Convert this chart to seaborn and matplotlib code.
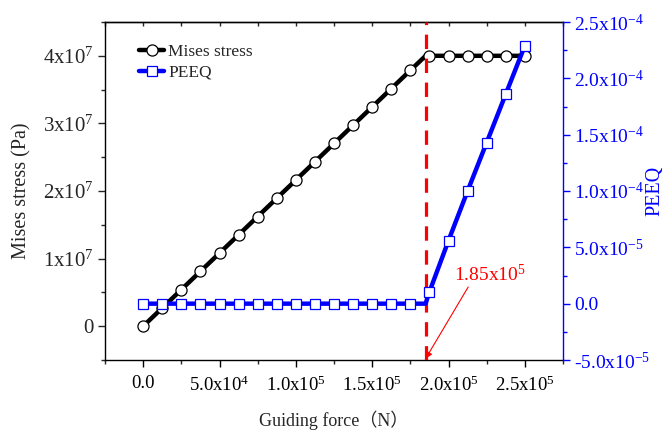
import matplotlib
matplotlib.use('Agg')
import matplotlib.pyplot as plt
from matplotlib.lines import Line2D
from matplotlib.ticker import MultipleLocator
import seaborn as sns
import pandas as pd

# ---- data ----
force = [0, 12500, 25000, 37500, 50000, 62500, 75000, 87500, 100000, 112500,
         125000, 137500, 150000, 162500, 175000, 185000, 187500, 200000,
         212500, 225000, 237500, 250000]
mises_stress = [0.0, 2.70e6, 5.41e6, 8.11e6, 10.81e6, 13.51e6, 16.22e6, 18.92e6,
                21.62e6, 24.32e6, 27.03e6, 29.73e6, 32.43e6, 35.14e6, 37.84e6,
                40.0e6, 40.0e6, 40.0e6, 40.0e6, 40.0e6, 40.0e6, 40.0e6]
peeq = [0, 0, 0, 0, 0, 0, 0, 0, 0, 0, 0, 0, 0, 0, 0, 0,
        1.05e-5, 5.6e-5, 1.0e-4, 1.43e-4, 1.86e-4, 2.29e-4]
# indices that carry a marker (185000 is the kink, no marker)
marker_idx = [0, 1, 2, 3, 4, 5, 6, 7, 8, 9, 10, 11, 12, 13, 14, 16, 17, 18, 19, 20, 21]

x_ticks = [0, 50000, 100000, 150000, 200000, 250000]
x_tick_labels = ["0.0", "5.0x10$^{4}$", "1.0x10$^{5}$", "1.5x10$^{5}$",
                 "2.0x10$^{5}$", "2.5x10$^{5}$"]
y1_ticks = [0, 1e7, 2e7, 3e7, 4e7]
y1_tick_labels = ["0", "1x10$^{7}$", "2x10$^{7}$", "3x10$^{7}$", "4x10$^{7}$"]
y2_ticks = [-5e-5, 0, 5e-5, 1e-4, 1.5e-4, 2e-4, 2.5e-4]
y2_tick_labels = ["-5.0x10$^{-5}$", "0.0", "5.0x10$^{-5}$", "1.0x10$^{-4}$",
                  "1.5x10$^{-4}$", "2.0x10$^{-4}$", "2.5x10$^{-4}$"]
yield_force = 185000
yield_label = "1.85x10$^{5}$"
series_names = ["Mises stress", "PEEQ"]

# ---- style ----
sns.set_style('ticks')
plt.rcParams['font.family'] = ['Liberation Serif', 'Noto Sans CJK SC']
plt.rcParams['mathtext.fontset'] = 'custom'
plt.rcParams['mathtext.rm'] = 'Liberation Serif'
plt.rcParams['mathtext.default'] = 'regular'

BLUE = '#0000ff'
RED = '#ff0000'

df = pd.DataFrame({'force': force, 'mises': mises_stress, 'peeq': peeq})

fig = plt.figure(figsize=(6.65, 4.3), dpi=100)
ax1 = fig.add_axes([105 / 665, 70 / 430, 458 / 665, 338 / 430])

sns.lineplot(data=df, x='force', y='mises', ax=ax1, color='black', lw=3.2,
             marker='o', markersize=8, markerfacecolor='white',
             markeredgecolor='black', markeredgewidth=0.9,
             markevery=marker_idx, errorbar=None, legend=False, zorder=3)

ax1.axvline(yield_force, color=RED, lw=2.3, ls=(0, (4.5, 3.0)), zorder=4)

ax1.set_xlim(-25000, 275000)
ax1.set_ylim(-5e6, 4.5e7)
ax1.set_xticks(x_ticks, x_tick_labels)
ax1.set_yticks(y1_ticks, y1_tick_labels)
ax1.xaxis.set_minor_locator(MultipleLocator(25000))
ax1.yaxis.set_minor_locator(MultipleLocator(5e6))
ax1.tick_params(axis='x', which='major', labelsize=13.5, length=5, width=1,
                direction='out', pad=6, colors='black')
ax1.tick_params(axis='x', which='minor', length=3, width=1, direction='out')
ax1.tick_params(axis='y', which='major', labelsize=15, length=5, width=1,
                direction='out', pad=3)
ax1.tick_params(axis='y', which='minor', length=3, width=1, direction='out')
for s in ['left', 'bottom', 'top']:
    ax1.spines[s].set_linewidth(1.0)
    ax1.spines[s].set_color('black')
ax1.spines['right'].set_visible(False)

ax1.set_xlabel("Guiding force（N）", fontsize=13)
ax1.set_ylabel("Mises stress (Pa)", fontsize=14.5)
ax1.xaxis.label.set_verticalalignment('center')
ax1.yaxis.label.set_verticalalignment('center')
ax1.xaxis.set_label_coords(0.5, -0.178)
ax1.yaxis.set_label_coords(-0.181, 0.5)

# annotation
ax1.annotate('', xy=(yield_force, -4.8e6), xytext=(212900, 5.8e6),
             arrowprops=dict(arrowstyle='-|>', color=RED, lw=0.8,
                             mutation_scale=10, shrinkA=0, shrinkB=0))
ax1.text(227300, 7.7e6, yield_label, color=RED, fontsize=14,
         ha='center', va='center')

# twin axis
ax2 = ax1.twinx()
sns.lineplot(data=df, x='force', y='peeq', ax=ax2, color=BLUE, lw=3.2,
             marker='s', markersize=7, markerfacecolor='white',
             markeredgecolor=BLUE, markeredgewidth=0.9,
             markevery=marker_idx, errorbar=None, legend=False, zorder=3)
ax2.set_ylim(-5e-5, 2.5e-4)
ax2.set_yticks(y2_ticks, y2_tick_labels)
ax2.yaxis.set_minor_locator(MultipleLocator(2.5e-5))
ax2.tick_params(axis='y', which='major', labelsize=14, length=5, width=1,
                direction='out', pad=3, colors=BLUE)
ax2.tick_params(axis='y', which='minor', length=3, width=1, direction='out',
                colors=BLUE)
ax2.spines['right'].set_color(BLUE)
ax2.spines['right'].set_linewidth(1.0)
for s in ['left', 'top', 'bottom']:
    ax2.spines[s].set_visible(False)
ax2.set_ylabel("PEEQ", fontsize=14.5, color=BLUE)
ax2.yaxis.label.set_verticalalignment('center')
ax2.yaxis.set_label_coords(1.201, 0.5)

# top ticks (inward)
ax_top = ax1.secondary_xaxis('top')
ax_top.set_xticks(x_ticks, [''] * len(x_ticks))
ax_top.xaxis.set_minor_locator(MultipleLocator(25000))
ax_top.tick_params(which='both', direction='in', length=3, width=1)
ax_top.spines['top'].set_linewidth(1.0)

# legend
handles = [
    Line2D([], [], color='black', lw=3.2, marker='o', markersize=8,
           markerfacecolor='white', markeredgecolor='black', markeredgewidth=0.9),
    Line2D([], [], color=BLUE, lw=3.2, marker='s', markersize=7,
           markerfacecolor='white', markeredgecolor=BLUE, markeredgewidth=0.9),
]
ax1.legend(handles, series_names, loc='upper left', bbox_to_anchor=(0.075, 0.935),
           frameon=False, fontsize=12.5, handlelength=1.4, handletextpad=0.25,
           labelspacing=0.25, borderpad=0, borderaxespad=0)

fig.savefig('out.png', dpi=100)
